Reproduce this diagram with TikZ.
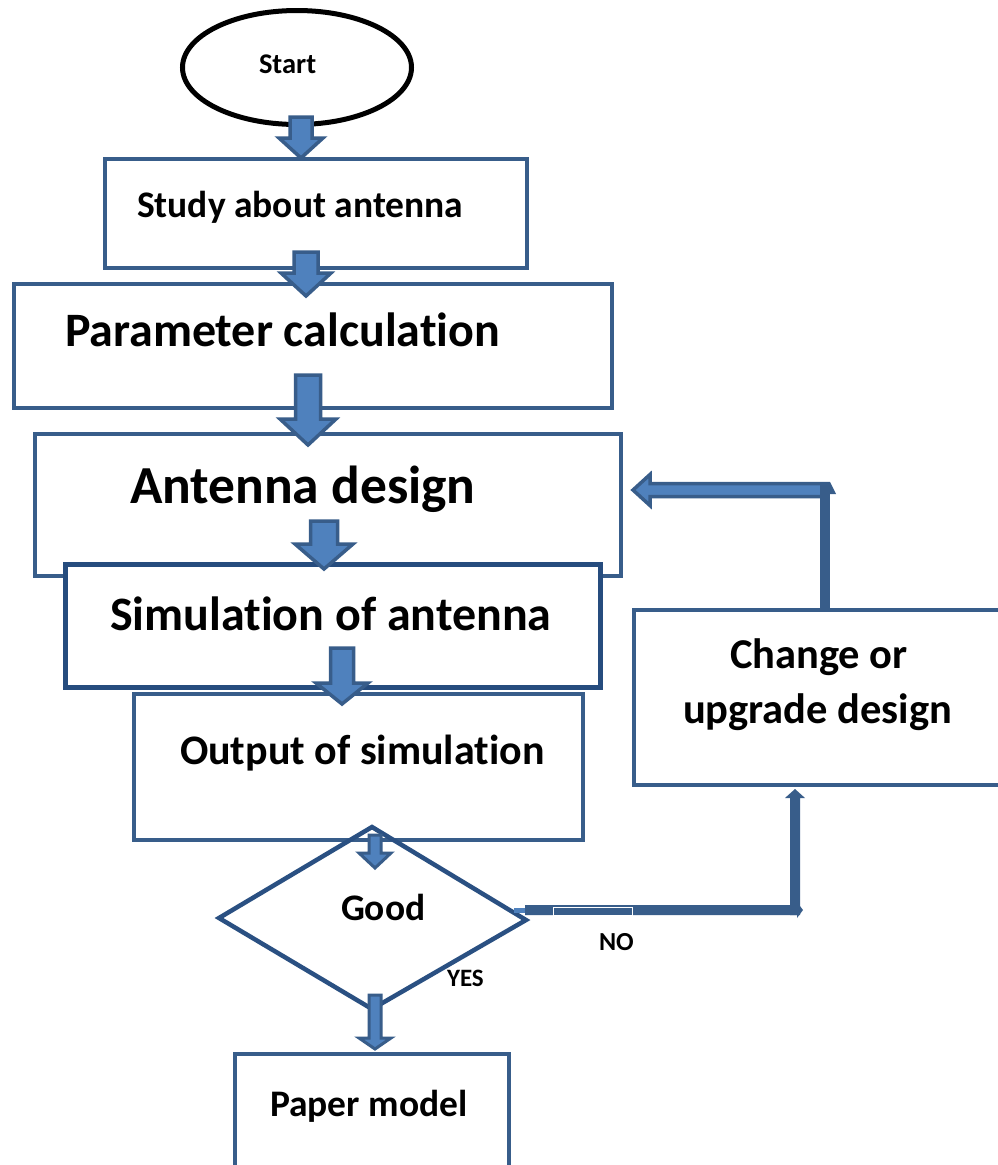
\documentclass[tikz,border=0pt]{standalone}
\usepackage{fontspec}
\setmainfont{Carlito}[RawFeature={-liga;-clig;-calt;-dlig}]
\usetikzlibrary{shapes.geometric}
\definecolor{bord}{HTML}{385D8A}
\definecolor{dbord}{HTML}{264C7E}
\definecolor{dia}{HTML}{2A5082}
\definecolor{afill}{HTML}{4F81BD}
\newcommand\tiNL{t\kern0pt i}
\tikzset{
  box/.style={draw=bord, line width=4pt, fill=white, inner sep=0pt, outer sep=0pt, rectangle},
  lbl/.style={inner sep=0pt, outer sep=0pt, anchor=base west, font=\bfseries\fontsize{#1}{#1}\selectfont},
  barrow/.style={fill=afill, draw=bord, line width=3.5pt, line join=miter},
  sarrow/.style={fill=afill, draw=bord, line width=3pt, line join=miter},
}
\newcommand\blkdown[7]{%
  \draw[#7] ({#1-#5},#2) -- ({#1+#5},#2) -- ({#1+#5},#3) -- ({#1+#6},#3) -- (#1,#4)
    -- ({#1-#6},#3) -- ({#1-#5},#3) -- cycle;}
\begin{document}
\begin{tikzpicture}[x=1pt,y=-1pt]
\clip (0,0) rectangle (998,1165);
\fill[white] (0,0) rectangle (998,1165);
% start
\node[draw=black, line width=5pt, ellipse, minimum width=229pt, minimum height=114pt, inner sep=0pt] (start) at (297,67.5) {};
\node[lbl=28.5] (tstart) at (259,73) {Start};
% boxes
\node[box, minimum width=422pt, minimum height=109pt] (b1) at (316,213.5) {};
\node[box, minimum width=598pt, minimum height=124pt] (b2) at (313,346) {};
\node[box, minimum width=586pt, minimum height=142pt] (b3) at (328,505) {};
\node[box, draw=dbord, line width=4.5pt, minimum width=535pt, minimum height=123pt] (b4) at (333,626) {};
\node[box, minimum width=449pt, minimum height=146pt] (b5) at (358.5,767) {};
\node[box, minimum width=274pt, minimum height=146pt] (b6) at (372,1127) {};
\node[box, minimum width=416pt, minimum height=175pt] (b7) at (842,697.5) {};
% diamond
\coordinate (dT) at (372,827);
\coordinate (dR) at (526,920);
\coordinate (dB) at (372,1009);
\coordinate (dL) at (219,918);
\draw[dia, line width=4.5pt, line join=miter] (dT) -- (dR) -- (dB) -- (dL) -- cycle;
% labels
\node[lbl=37.5] (t1) at (137,217) {Study about antenna};
\node[lbl=48] (t2) at (65,346) {Parameter calcula\tiNL on};
\node[lbl=53.5] (t3) at (130,503) {Antenna design};
\node[lbl=48] (t4) at (110,630) {Simula\tiNL on of antenna};
\node[lbl=42] (t5) at (180,764) {Output of simula\tiNL on};
\node[lbl=37.5] (tg) at (341,920) {Good};
\node[lbl=37.5] (t6) at (270,1116) {Paper model};
\node[lbl=42.5] (t7a) at (730,668) {Change or};
\node[lbl=42.5] (t7b) at (683,723) {upgrade design};
\node[lbl=25] (tyes) at (447,986) {YES};
\node[lbl=26] (tno) at (599,950) {NO};
% block arrows
\blkdown{301}{117}{138}{158}{11}{22}{barrow}
\blkdown{306}{252}{273}{296}{12}{25}{barrow}
\blkdown{308}{375}{419}{445}{12.5}{28}{barrow}
\blkdown{324}{521}{544}{569}{13.5}{29}{barrow}
\blkdown{342}{648}{683}{704}{11.5}{26}{barrow}
\blkdown{375}{835}{853}{868}{6}{16}{sarrow}
\blkdown{375}{995}{1038}{1049}{6}{16}{sarrow}
% NO branch
\fill[afill] (514,908) rectangle (526,913);
\fill[bord] (525,905) -- (797,905) -- (797,902) -- (803,910) -- (797,918) -- (797,915) -- (525,915) -- cycle;
\draw[white, line width=1pt] (553,907.5) rectangle (632,915.5);
\fill[bord] (790,915) -- (790,798) -- (785,798) -- (795,789) -- (805,798) -- (800,798) -- (800,915) -- cycle;
% loop back
\draw[barrow] (828,483.5) -- (650,483.5) -- (650,474.5) -- (633,490) -- (650,505.5) -- (650,496.5) -- (828,496.5) -- cycle;
\fill[bord] (820,482) rectangle (830,609);
\fill[bord] (830,482) -- (836,494) -- (830,494) -- cycle;
\end{tikzpicture}
\end{document}
